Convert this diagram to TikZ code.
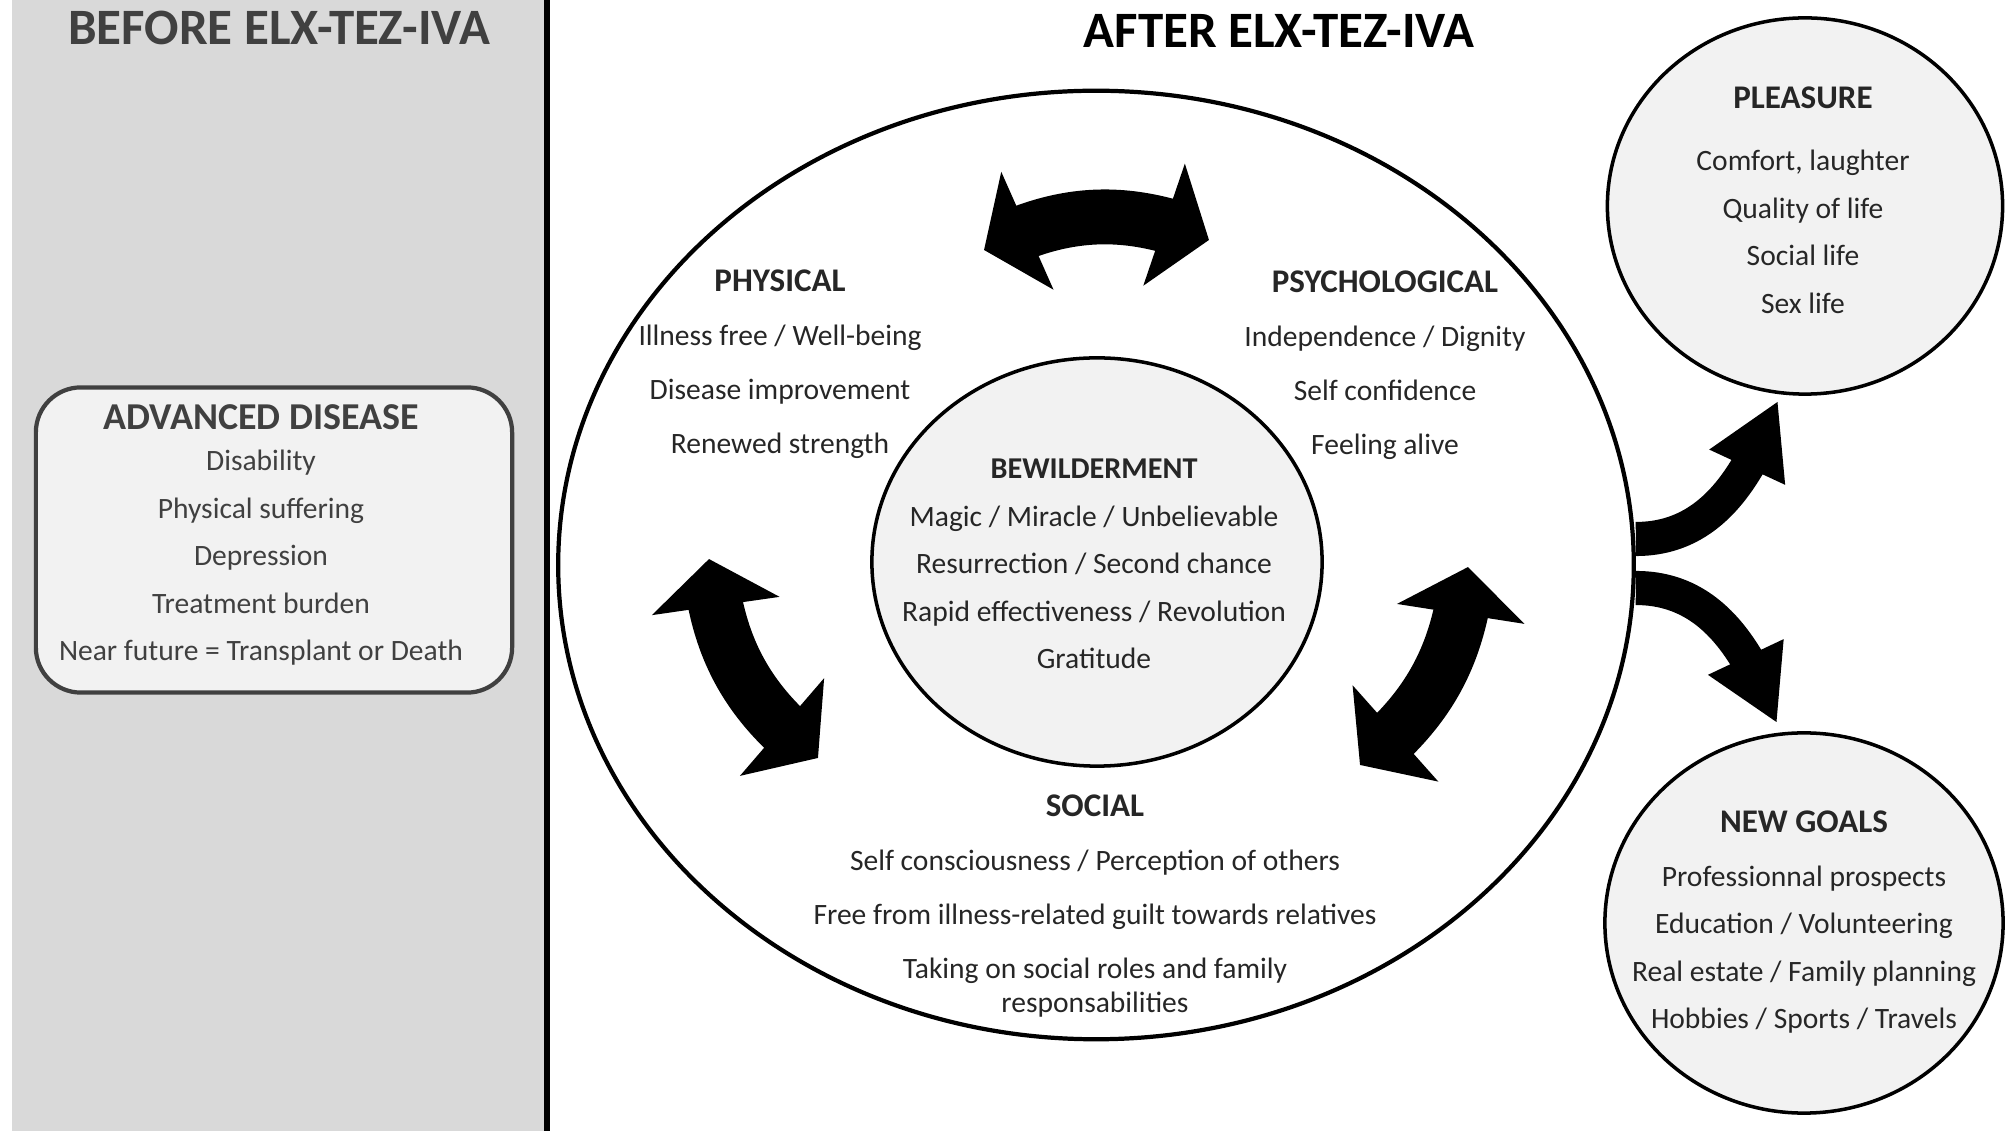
\documentclass[tikz,border=0pt]{standalone}
\usepackage{fontspec}
\setmainfont{Carlito}
\usepackage{tikz}
\usetikzlibrary{arrows.meta,bending,shapes.geometric,calc}
\definecolor{panelgrey}{HTML}{D9D9D9}
\definecolor{boxgrey}{HTML}{F2F2F2}
\definecolor{darkgrey}{HTML}{404040}
\newcommand{\head}[2][9.4]{{\fontsize{#1}{13.5}\selectfont\bfseries #2}}

\begin{document}
\begin{tikzpicture}[
  x=0.01cm, y=0.01cm,
  font=\fontsize{8.4}{13.5}\selectfont,
  txt/.style={align=center, inner sep=0pt, text=black!85},
  title/.style={font=\fontsize{14.5}{17}\selectfont\bfseries, inner sep=0pt},
  oval/.style={draw, ellipse, line width=1pt, fill=boxgrey, inner sep=0pt},
  bigarrow/.style={line width=15.6pt, {Triangle[width=36pt,length=13.5pt]}-{Triangle[width=36pt,length=13.5pt]}},
  outarrow/.style={line width=9.7pt, -{Triangle[width=22.2pt,length=20.8pt]}}
]
\useasboundingbox (0,0) rectangle (2005,-1131);
\fill[white] (0,0) rectangle (2005,-1131);

\fill[panelgrey] (12,0) rectangle (547,-1131);
\draw[line width=1.5pt] (547,0) -- (547,-1131);

\node[title, text=darkgrey] (before) at (279,-28) {BEFORE ELX-TEZ-IVA};
\node[title] (aftertitle) at (1279,-31) {AFTER ELX-TEZ-IVA};

\node[draw=darkgrey, line width=1.2pt, fill=boxgrey, rounded corners=0.45cm,
  minimum width=4.76cm, minimum height=3.05cm] (disease) at (274,-540) {};
\node[txt, text=darkgrey] (diseasetext) at (261,-535) {{\fontsize{10.8}{13}\selectfont\bfseries ADVANCED DISEASE}\\[-1.8pt]
  Disability\\Physical suffering\\Depression\\Treatment burden\\Near future = Transplant or Death};

\node[draw, ellipse, line width=1.2pt, fill=white, inner sep=0pt,
  minimum width=10.75cm, minimum height=9.48cm] (after) at (1096,-565) {};
\node[oval, minimum width=4.5cm, minimum height=4.08cm] (bew) at (1097,-562) {};
\node[oval, minimum width=3.95cm, minimum height=3.76cm] (pleasure) at (1805,-206) {};
\node[oval, minimum width=3.98cm, minimum height=3.8cm] (goals) at (1804,-923) {};

\node[txt] (phys) at (780,-364) {\head{PHYSICAL}\\[1.8pt]Illness free / Well-being\\[1.8pt]Disease improvement\\[1.8pt]Renewed strength};
\node[txt] (psy) at (1385,-365) {\head{PSYCHOLOGICAL}\\[1.8pt]Independence / Dignity\\[1.8pt]Self confidence\\[1.8pt]Feeling alive};
\node[txt] (bewtext) at (1094,-564) {\head[8.6]{BEWILDERMENT}\\Magic / Miracle / Unbelievable\\Resurrection / Second chance\\Rapid effectiveness / Revolution\\Gratitude};
\node[txt] (soc) at (1095,-906) {\head{SOCIAL}\\[1.8pt]Self consciousness / Perception of others\\[1.8pt]Free from illness-related guilt towards relatives\\[1.8pt]Taking on social roles and family\\[-3.8pt]responsabilities};
\node[txt] (pltext) at (1803,-200) {\head{PLEASURE}\\[4.2pt]Comfort, laughter\\Quality of life\\Social life\\Sex life};
\node[txt] (ngtext) at (1804,-922) {\head{NEW GOALS}\\[1.8pt]Professionnal prospects\\Education / Volunteering\\Real estate / Family planning\\Hobbies / Sports / Travels};

\coordinate (t1) at (984,-250);
\coordinate (t2) at (1209,-240);
\coordinate (l1) at (709,-559);
\coordinate (l2) at (818,-758);
\coordinate (r1) at (1468,-567);
\coordinate (r2) at (1360,-765);

\draw[bigarrow] (t1) to[bend left=25] (t2);
\draw[bigarrow] (l1) to[bend right=24] (l2);
\draw[bigarrow] (r1) to[bend left=23] (r2);

\draw[outarrow] ($(after.east)+(0,26)$) to[out=0,in=-111] ($(pleasure.south)+(-27,-5)$);
\draw[outarrow] ($(after.east)+(0,-23)$) to[out=0,in=111] ($(goals.north)+(-27,8)$);
\end{tikzpicture}
\end{document}
